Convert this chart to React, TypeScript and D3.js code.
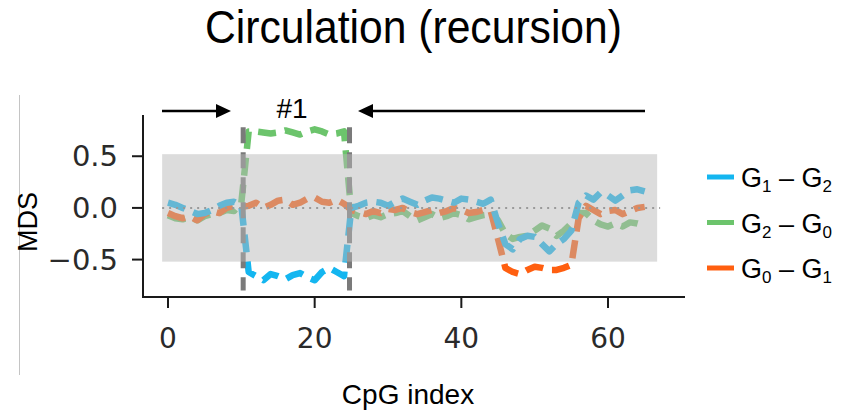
import React from "react";
import * as d3 from "d3";

// CpG positions 0..65
const cpgIndex: number[] = d3.range(0, 66);

// MDS differences between sample groups
const g1g2: number[] = [
  0.05, 0.03, 0.0, -0.03, -0.06, -0.05, -0.02, 0.02, 0.05, 0.06, 0.02,
  -0.62, -0.66, -0.7, -0.64, -0.66, -0.69, -0.65, -0.63, -0.67, -0.7, -0.62, -0.58, -0.62, -0.66,
  0.0, 0.02, 0.05, 0.06, 0.05, 0.02, 0.06, 0.09, 0.06, 0.03, 0.07, 0.1, 0.09, 0.07, 0.05, 0.09, 0.08, 0.06, 0.04, 0.08,
  -0.15, -0.35, -0.4, -0.3, -0.27, -0.28, -0.35, -0.42, -0.35, -0.3, -0.22, 0.05,
  0.12, 0.08, 0.15, 0.12, 0.07, 0.12, 0.17, 0.18, 0.16,
];
const g2g0: number[] = [
  -0.07, -0.1, -0.11, -0.09, -0.12, -0.08, -0.06, -0.05, -0.02, -0.03, 0.05,
  0.74, 0.74, 0.73, 0.72, 0.73, 0.75, 0.73, 0.71, 0.74, 0.76, 0.74, 0.71, 0.72, 0.74,
  -0.05, -0.08, -0.1, -0.07, -0.09, -0.06, -0.05, -0.03, -0.08, -0.12, -0.09, -0.06, -0.1, -0.08, -0.05, -0.07, -0.11, -0.09, -0.07, -0.06,
  -0.12, -0.25, -0.3, -0.28, -0.27, -0.22, -0.17, -0.2, -0.27, -0.22, -0.15, -0.05,
  -0.05, -0.12, -0.16, -0.18, -0.15, -0.18, -0.14, -0.15, -0.17,
];
const g0g1: number[] = [
  -0.05, -0.08, -0.1, -0.08, -0.12, -0.06, -0.03, -0.05, 0.0, 0.02, 0.01,
  0.02, 0.05, 0.0, 0.03, 0.07, 0.08, 0.03, 0.05, 0.09, 0.1, 0.06, 0.05, 0.08, 0.04,
  -0.02, -0.04, -0.06, -0.03, -0.05, -0.01, -0.02, 0.0, -0.04, -0.06, -0.04, -0.02, -0.05, -0.03, 0.0, -0.02, -0.05, -0.04, -0.02, -0.03,
  -0.3, -0.58, -0.62, -0.64, -0.6, -0.57, -0.58, -0.6, -0.6, -0.58, -0.55, -0.1,
  0.02, -0.02, -0.06, -0.03, -0.02, -0.06, -0.03, 0.0, 0.01,
];

const seriesNames: string[][] = [
  ["1", "2"],
  ["2", "0"],
  ["0", "1"],
];
const seriesColors: string[] = ["#14b6f0", "#6cc46c", "#ff5f10"];

const xTicks: number[] = [0, 20, 40, 60];
const yTicks: number[] = [0.5, 0.0, -0.5];

// borders of the recursion block #1
const blockEdges: number[] = [10.25, 24.75];
// shaded noise band
const bandX: number[] = [-0.8, 66.7];
const bandY: number[] = [-0.52, 0.52];

const W = 844;
const H = 417;
const SANS = "Liberation Sans, Arial, sans-serif";

export default function App() {
  const x = d3.scaleLinear().domain([-3.41, 70.5]).range([143, 685]);
  const y = d3.scaleLinear().domain([-0.862, 0.899]).range([297, 115]);

  const line = d3
    .line<number>()
    .x((_, i) => x(cpgIndex[i]))
    .y((d) => y(d));

  const data = [g1g2, g2g0, g0g1];
  const drawOrder = [1, 2, 0];

  const fmt = (v: number) => (v < 0 ? "\u2212" : "") + Math.abs(v).toFixed(1);

  return (
    <svg
      width={W}
      height={H}
      style={{ position: "absolute", left: 0, top: 0, background: "#fff" }}
    >
      <text
        x={413.5}
        y={43}
        textAnchor="middle"
        fontFamily={SANS}
        fontSize={46}
        textLength={417}
        lengthAdjust="spacingAndGlyphs"
        fill="#000"
      >
        Circulation (recursion)
      </text>

      {/* thin guide at the left edge */}
      <line x1={19.5} x2={19.5} y1={95} y2={375} stroke="#c4c4c4" strokeWidth={1} />

      {/* series */}
      {drawOrder.map((k) => (
        <path
          key={k}
          d={line(data[k]) || ""}
          fill="none"
          stroke={seriesColors[k]}
          strokeWidth={6.5}
          strokeDasharray="18 9"
          strokeLinejoin="round"
        />
      ))}

      {/* block borders */}
      {blockEdges.map((b, i) => (
        <line
          key={i}
          x1={x(b)}
          x2={x(b)}
          y1={y(0.78)}
          y2={y(-0.8)}
          stroke="#7a7a7a"
          strokeWidth={5}
          strokeDasharray="16 9"
        />
      ))}

      {/* noise band */}
      <rect
        x={x(bandX[0])}
        y={y(bandY[1])}
        width={x(bandX[1]) - x(bandX[0])}
        height={y(bandY[0]) - y(bandY[1])}
        fill="#b8b8b8"
        fillOpacity={0.49}
      />
      <line
        x1={x(bandX[0])}
        x2={x(bandX[1]) + 3}
        y1={y(0)}
        y2={y(0)}
        stroke="#9a9a9a"
        strokeWidth={2}
        strokeDasharray="2 5"
      />

      {/* axes */}
      <line x1={143} x2={143} y1={115} y2={298} stroke="#1a1a1a" strokeWidth={2} />
      <line x1={142} x2={685} y1={297} y2={297} stroke="#1a1a1a" strokeWidth={2} />
      {yTicks.map((t) => (
        <g key={t}>
          <line x1={132} x2={143} y1={y(t)} y2={y(t)} stroke="#1a1a1a" strokeWidth={2} />
          <text
            x={118}
            y={y(t) + 10}
            textAnchor="end"
            fontFamily="DejaVu Sans, sans-serif"
            fontSize={29}
            fill="#2a2a2a"
          >
            {fmt(t)}
          </text>
        </g>
      ))}
      {xTicks.map((t) => (
        <g key={t}>
          <line x1={x(t)} x2={x(t)} y1={297} y2={308} stroke="#1a1a1a" strokeWidth={2} />
          <text
            x={x(t)}
            y={348}
            textAnchor="middle"
            fontFamily="DejaVu Sans, sans-serif"
            fontSize={28}
            fill="#2a2a2a"
          >
            {t}
          </text>
        </g>
      ))}

      <text
        x={408}
        y={404}
        textAnchor="middle"
        fontFamily={SANS}
        fontSize={28}
        fill="#000"
      >
        CpG index
      </text>
      <text
        transform="translate(37,222) rotate(-90)"
        textAnchor="middle"
        fontFamily={SANS}
        fontSize={27}
        fill="#000"
      >
        MDS
      </text>

      {/* arrows toward block #1 */}
      <line x1={162} x2={218} y1={111} y2={111} stroke="#000" strokeWidth={2.5} />
      <path d="M231,111 L216,104 L216,118 Z" fill="#000" />
      <line x1={372} x2={645} y1={111} y2={111} stroke="#000" strokeWidth={2.5} />
      <path d="M358,111 L373,104 L373,118 Z" fill="#000" />
      <text
        x={292}
        y={118}
        textAnchor="middle"
        fontFamily={SANS}
        fontSize={28}
        fill="#000"
      >
        #1
      </text>

      {/* legend */}
      {seriesNames.map((n, i) => {
        const ly = 177 + i * 45.5;
        return (
          <g key={i}>
            <line x1={707} x2={734} y1={ly} y2={ly} stroke={seriesColors[i]} strokeWidth={5} />
            <text x={741} y={ly + 10} fontFamily={SANS} fontSize={27} fill="#000">
              G
              <tspan fontSize={17} dy={5}>{n[0]}</tspan>
              <tspan dy={-5}>{" \u2013 G"}</tspan>
              <tspan fontSize={17} dy={5}>{n[1]}</tspan>
            </text>
          </g>
        );
      })}
    </svg>
  );
}
